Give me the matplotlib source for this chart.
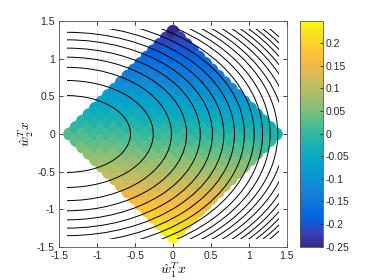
import numpy as np
import matplotlib
matplotlib.use("Agg")
import matplotlib.pyplot as plt
from matplotlib.colors import LinearSegmentedColormap
from matplotlib.patches import Ellipse, Rectangle

plt.rcParams["font.family"] = ["Liberation Sans", "DejaVu Sans"]
plt.rcParams["mathtext.fontset"] = "cm"
plt.rcParams["axes.unicode_minus"] = False

# =======-------- DATOS --------=======

# posiciones de la red de puntos en coordenadas (x+y, x-y)
p_vals = np.linspace(-1.36, 1.36, 17)
q_vals = np.linspace(-1.36, 1.36, 17)

# valor (color) de cada punto: fila = p (x+y), columna = q (x-y)
valores = np.array([
    [0.02, 0.03, 0.05, 0.06, 0.07, 0.09, 0.10, 0.11, 0.13, 0.14, 0.16, 0.17, 0.18, 0.20, 0.21, 0.23, 0.25],
    [0.00, 0.02, 0.03, 0.04, 0.06, 0.07, 0.09, 0.10, 0.11, 0.13, 0.14, 0.15, 0.17, 0.18, 0.19, 0.21, 0.22],
    [-0.01, 0.00, 0.01, 0.03, 0.04, 0.06, 0.07, 0.08, 0.10, 0.11, 0.12, 0.14, 0.15, 0.16, 0.18, 0.19, 0.21],
    [-0.03, -0.02, 0.00, 0.01, 0.03, 0.04, 0.05, 0.07, 0.08, 0.09, 0.11, 0.12, 0.14, 0.15, 0.16, 0.18, 0.19],
    [-0.05, -0.03, -0.02, 0.00, 0.01, 0.02, 0.04, 0.05, 0.06, 0.08, 0.09, 0.11, 0.12, 0.13, 0.15, 0.16, 0.17],
    [-0.06, -0.05, -0.03, -0.02, -0.01, 0.01, 0.02, 0.03, 0.05, 0.06, 0.08, 0.09, 0.10, 0.12, 0.13, 0.14, 0.16],
    [-0.08, -0.06, -0.05, -0.04, -0.02, -0.01, 0.00, 0.02, 0.03, 0.05, 0.06, 0.07, 0.09, 0.10, 0.11, 0.13, 0.14],
    [-0.09, -0.08, -0.07, -0.05, -0.04, -0.03, -0.01, 0.00, 0.02, 0.03, 0.04, 0.06, 0.07, 0.08, 0.10, 0.11, 0.13],
    [-0.11, -0.10, -0.08, -0.07, -0.06, -0.04, -0.03, -0.01, 0.00, 0.01, 0.03, 0.04, 0.06, 0.07, 0.08, 0.10, 0.11],
    [-0.13, -0.11, -0.10, -0.08, -0.07, -0.06, -0.04, -0.03, -0.02, 0.00, 0.01, 0.03, 0.04, 0.05, 0.07, 0.08, 0.09],
    [-0.14, -0.13, -0.11, -0.10, -0.09, -0.07, -0.06, -0.05, -0.03, -0.02, -0.01, 0.01, 0.02, 0.04, 0.05, 0.06, 0.08],
    [-0.16, -0.14, -0.13, -0.12, -0.10, -0.09, -0.08, -0.06, -0.05, -0.03, -0.02, -0.01, 0.01, 0.02, 0.03, 0.05, 0.06],
    [-0.17, -0.16, -0.15, -0.13, -0.12, -0.11, -0.09, -0.08, -0.06, -0.05, -0.04, -0.02, -0.01, 0.00, 0.02, 0.03, 0.05],
    [-0.19, -0.18, -0.16, -0.15, -0.14, -0.12, -0.11, -0.09, -0.08, -0.07, -0.05, -0.04, -0.03, -0.01, 0.00, 0.02, 0.03],
    [-0.21, -0.19, -0.18, -0.16, -0.15, -0.14, -0.12, -0.11, -0.10, -0.08, -0.07, -0.06, -0.04, -0.03, -0.01, 0.00, 0.01],
    [-0.22, -0.21, -0.19, -0.18, -0.17, -0.15, -0.14, -0.13, -0.11, -0.10, -0.08, -0.07, -0.06, -0.04, -0.03, -0.02, 0.00],
    [-0.25, -0.22, -0.21, -0.20, -0.18, -0.17, -0.16, -0.14, -0.13, -0.11, -0.10, -0.09, -0.07, -0.06, -0.05, -0.03, -0.02],
])

# curvas de nivel: centro y semiejes (x, y) de cada elipse
centro_x = -1.4
semieje_x = [0.84, 1.14, 1.38, 1.58, 1.76, 1.92, 2.07, 2.21, 2.34, 2.47, 2.58, 2.68,
             2.78, 2.87, 2.96, 3.05, 3.13, 3.21, 3.28, 3.35, 3.42]
semieje_y = [0.51, 0.71, 0.885, 1.02, 1.14, 1.25, 1.35, 1.446, 1.535, 1.618, 1.69, 1.755,
             1.818, 1.877, 1.936, 1.995, 2.047, 2.099, 2.148, 2.194, 2.24]
limite_rejilla = 1.4

ticks_ejes = [-1.5, -1, -0.5, 0, 0.5, 1, 1.5]
ticks_barra = [-0.25, -0.2, -0.15, -0.1, -0.05, 0, 0.05, 0.1, 0.15, 0.2]

# mapa de color tipo parula
parula_rgb = [
    (0.2081, 0.1663, 0.5292), (0.1959, 0.2645, 0.7279), (0.0117, 0.3875, 0.8820),
    (0.0498, 0.4586, 0.8641), (0.0793, 0.5200, 0.8312), (0.0343, 0.5966, 0.8199),
    (0.0228, 0.6535, 0.7768), (0.0843, 0.6928, 0.7062), (0.2178, 0.7250, 0.6193),
    (0.3953, 0.7459, 0.5244), (0.5709, 0.7485, 0.4494), (0.7184, 0.7411, 0.3905),
    (0.8507, 0.7299, 0.3360), (0.9739, 0.7314, 0.2666), (0.9880, 0.8066, 0.1794),
    (0.9589, 0.8949, 0.1132), (0.9763, 0.9831, 0.0538),
]
pos = [0, 4, 8, 12, 16, 20, 24, 28, 32, 36, 40, 44, 48, 52, 56, 60, 63]
parula = LinearSegmentedColormap.from_list("parula", [(p / 63, c) for p, c in zip(pos, parula_rgb)])

# =======-------- GRAFICA --------=======

fig = plt.figure(figsize=(3.74, 2.8), dpi=100)
ax = fig.add_axes([0.158, 0.118, 0.609, 0.807])

Q, P = np.meshgrid(q_vals, p_vals)
X = (P + Q) / 2
Y = (P - Q) / 2
sc = ax.scatter(X.ravel(), Y.ravel(), c=valores.ravel(), cmap=parula,
                vmin=-0.2505, vmax=0.249, s=90, linewidths=0, zorder=2)

caja = Rectangle((-limite_rejilla, -limite_rejilla), 2 * limite_rejilla, 2 * limite_rejilla,
                 transform=ax.transData, fill=False)
for a, b in zip(semieje_x, semieje_y):
    el = Ellipse((centro_x, 0), 2 * a, 2 * b, fill=False, edgecolor="black", lw=0.7, zorder=3)
    ax.add_patch(el)
    el.set_clip_path(caja)

ax.set_xlim(-1.5, 1.5)
ax.set_ylim(-1.5, 1.5)
ax.set_xticks(ticks_ejes)
ax.set_yticks(ticks_ejes)
ax.set_xticklabels([f"{t:g}" for t in ticks_ejes])
ax.set_yticklabels([f"{t:g}" for t in ticks_ejes])
ax.set_axisbelow(True)
ax.grid(True, color="#e3e3e3", lw=0.6)
ax.tick_params(direction="in", length=3, width=0.6, top=True, right=True,
               labelsize=7.5, colors="#262626", pad=3)
for s in ax.spines.values():
    s.set_color("#555555")
    s.set_linewidth(0.6)

ax.set_xlabel(r"$\hat{w}_1^T x$", fontsize=10, labelpad=0)
ax.set_ylabel(r"$\hat{w}_2^T x$", fontsize=10, labelpad=1)

cax = fig.add_axes([0.802, 0.118, 0.0615, 0.807])
cb = fig.colorbar(sc, cax=cax)
cb.set_ticks(ticks_barra)
cb.set_ticklabels([f"{t:g}" for t in ticks_barra])
cb.ax.tick_params(direction="in", length=2.5, width=0.6, labelsize=7.5, colors="#262626", pad=2)
cb.outline.set_edgecolor("#555555")
cb.outline.set_linewidth(0.6)

fig.savefig("out.png", dpi=100)
